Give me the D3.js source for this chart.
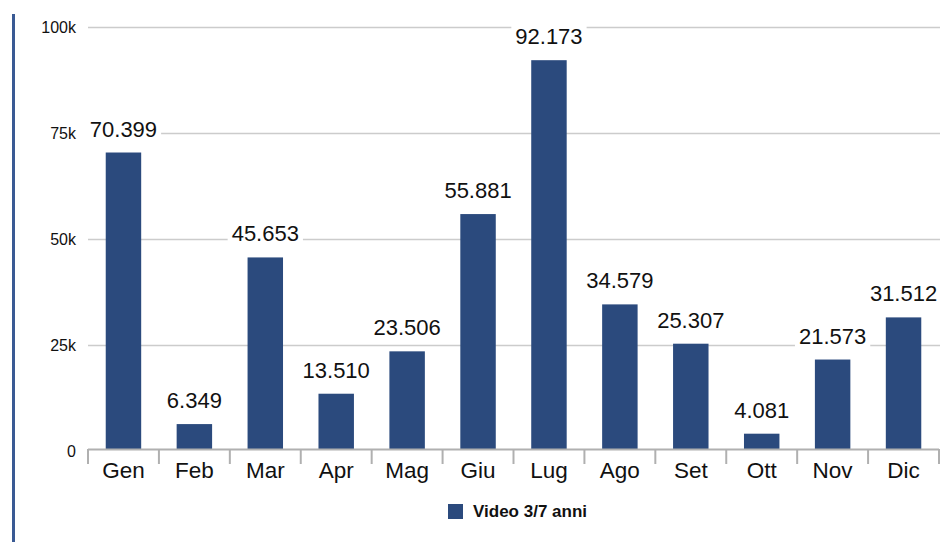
<!DOCTYPE html>
<html>
<head>
<meta charset="utf-8">
<script src="https://cdn.jsdelivr.net/npm/d3@7"></script>
<style>
  html, body { margin: 0; padding: 0; background: #fff; }
  svg { display: block; font-family: Helvetica, Arial, "Liberation Sans", sans-serif; }
</style>
</head>
<body>
<svg id="chart" width="940" height="542"></svg>
<script>
const categories = ["Gen", "Feb", "Mar", "Apr", "Mag", "Giu", "Lug", "Ago", "Set", "Ott", "Nov", "Dic"];
const values = [70399, 6349, 45653, 13510, 23506, 55881, 92173, 34579, 25307, 4081, 21573, 31512];
const valueLabels = ["70.399", "6.349", "45.653", "13.510", "23.506", "55.881", "92.173", "34.579", "25.307", "4.081", "21.573", "31.512"];
const yTicks = [0, 25000, 50000, 75000, 100000];
const yTickLabels = ["0", "25k", "50k", "75k", "100k"];
const seriesName = "Video 3/7 anni";

const barColor = "#2b4a7d";
const svg = d3.select("#chart");

const x = d3.scaleBand().domain(categories).range([88, 939]).padding(0);
const y = d3.scaleLinear().domain([0, 100000]).range([451, 27]);

// left decorative line
svg.append("line")
  .attr("x1", 13.5).attr("x2", 13.5).attr("y1", 14).attr("y2", 542)
  .attr("stroke", "#3a5a94").attr("stroke-width", 3);

// gridlines
svg.append("g").selectAll("line")
  .data(yTicks.filter(d => d > 0))
  .join("line")
  .attr("x1", 88).attr("x2", 940)
  .attr("y1", d => Math.round(y(d)) + 0.5).attr("y2", d => Math.round(y(d)) + 0.5)
  .attr("stroke", "#cccccc").attr("stroke-width", 1.5);

// y tick labels
svg.append("g").selectAll("text")
  .data(yTicks)
  .join("text")
  .attr("x", 76)
  .attr("y", d => y(d))
  .attr("dy", "0.35em")
  .attr("text-anchor", "end")
  .attr("font-size", 16)
  .attr("fill", "#111")
  .text((d, i) => yTickLabels[i]);

// bars
const bw = x.bandwidth() * 0.5;
svg.append("g").selectAll("rect")
  .data(values)
  .join("rect")
  .attr("x", (d, i) => x(categories[i]) + x.bandwidth() / 2 - bw / 2)
  .attr("y", d => y(d))
  .attr("width", bw)
  .attr("height", d => y(0) - 2 - y(d))
  .attr("fill", barColor);

// x axis
const axisY = y(0) - 2;
const ax = svg.append("g");
ax.append("line")
  .attr("x1", 88).attr("x2", 939).attr("y1", axisY + 0.5).attr("y2", axisY + 0.5)
  .attr("stroke", "#b0b0b0").attr("stroke-width", 2);
const tickPos = categories.map(c => x(c)).concat([x.range()[1]]);
ax.selectAll("line.tick")
  .data(tickPos)
  .join("line")
  .attr("class", "tick")
  .attr("x1", d => d).attr("x2", d => d)
  .attr("y1", axisY).attr("y2", axisY + 15)
  .attr("stroke", "#b0b0b0").attr("stroke-width", 2);
ax.selectAll("text")
  .data(categories)
  .join("text")
  .attr("x", d => x(d) + x.bandwidth() / 2)
  .attr("y", 478)
  .attr("text-anchor", "middle")
  .attr("font-size", 22.5)
  .attr("fill", "#111")
  .text(d => d);

// value labels with white background
const lg = svg.append("g");
values.forEach((v, i) => {
  const cx = x(categories[i]) + x.bandwidth() / 2;
  const g = lg.append("g");
  const t = g.append("text")
    .attr("x", cx)
    .attr("y", y(v) - 16)
    .attr("text-anchor", "middle")
    .attr("font-size", 22)
    .attr("fill", "#111")
    .text(valueLabels[i]);
  const bb = t.node().getBBox();
  g.insert("rect", "text")
    .attr("x", bb.x - 4).attr("y", bb.y - 1)
    .attr("width", bb.width + 8).attr("height", bb.height + 2)
    .attr("fill", "#fff");
});

// legend
const leg = svg.append("g");
leg.append("rect")
  .attr("x", 448).attr("y", 504).attr("width", 15).attr("height", 15)
  .attr("fill", barColor);
leg.append("text")
  .attr("x", 473).attr("y", 517)
  .attr("font-size", 17)
  .attr("font-weight", "bold")
  .attr("fill", "#111")
  .text(seriesName);
</script>
</body>
</html>
